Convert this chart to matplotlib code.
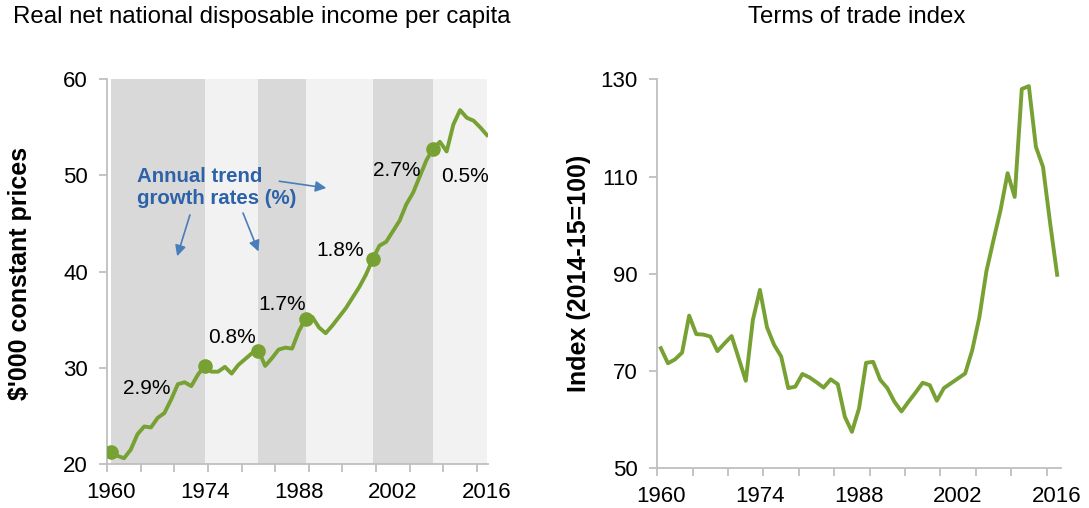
import matplotlib
matplotlib.use('Agg')
import matplotlib.pyplot as plt
from matplotlib.ticker import FixedLocator
import numpy as np

plt.rcParams['font.family'] = ['Liberation Sans', 'DejaVu Sans']

years = np.arange(1960, 2017)

# real net national disposable income per capita, $'000 constant prices
income = [21.2, 20.85, 20.6, 21.5, 23.1, 23.9, 23.8, 24.8, 25.3, 26.7,
          28.3, 28.5, 28.1, 29.3, 30.2, 29.6, 29.6, 30.1, 29.4, 30.3,
          30.9, 31.5, 31.8, 30.2, 31.0, 31.9, 32.1, 32.0, 33.8, 35.1,
          35.3, 34.2, 33.6, 34.4, 35.3, 36.2, 37.3, 38.4, 39.7, 41.3,
          42.7, 43.1, 44.2, 45.3, 47.0, 48.2, 49.9, 51.6, 52.8, 53.5,
          52.5, 55.3, 56.8, 56.0, 55.7, 55.0, 54.2]

# terms of trade index (2014-15=100)
tot = [74.7, 71.6, 72.4, 73.8, 81.4, 77.6, 77.5, 77.1, 74.1, 75.7,
       77.2, 72.6, 68.0, 80.5, 86.7, 79.0, 75.4, 73.0, 66.5, 66.8,
       69.4, 68.7, 67.7, 66.6, 68.3, 67.3, 60.6, 57.5, 62.3, 71.7,
       71.9, 68.2, 66.5, 63.7, 61.7, 63.7, 65.6, 67.6, 67.1, 63.9,
       66.5, 67.5, 68.5, 69.5, 74.3, 81.0, 90.5, 96.9, 103.1, 110.7,
       105.8, 128.0, 128.6, 116.1, 112.0, 100.5, 89.8]

# cycle peaks (band edges) and trend growth rates between them
peak_years = [1960, 1974, 1982, 1989, 1999, 2008, 2016]
growth_labels = ['2.9%', '0.8%', '1.7%', '1.8%', '2.7%', '0.5%']
label_pos = [(1965.4, 27.9), (1978.0, 33.2), (1985.6, 36.6),
             (1994.1, 42.2), (2002.6, 50.5), (2012.7, 49.9)]

xtick_years = [1960, 1974, 1988, 2002, 2016]

green = '#77A132'
blue_txt = '#2E62A8'
blue_arrow = '#4A7EBB'
axis_grey = '#BFBFBF'

fig = plt.figure(figsize=(10.89, 5.08), dpi=100)
ax1 = fig.add_axes([0.0985, 0.0866, 0.3499, 0.7573])
ax2 = fig.add_axes([0.6036, 0.0781, 0.3704, 0.7658])


def style_axis(ax):
    for s in ['top', 'right']:
        ax.spines[s].set_visible(False)
    for s in ['left', 'bottom']:
        ax.spines[s].set_color(axis_grey)
        ax.spines[s].set_linewidth(1.3)
    ax.set_xticks(xtick_years)
    ax.xaxis.set_minor_locator(FixedLocator(np.arange(1959.5, 2015, 5)))
    ax.tick_params(axis='x', which='major', length=0, pad=13, labelsize=16)
    ax.tick_params(axis='x', which='minor', length=6, width=1.3, color=axis_grey)
    ax.tick_params(axis='y', which='major', length=6, width=1.3, color=axis_grey,
                   labelsize=16, pad=8)


# left chart
ax1.set_xlim(1959.5, 2016.2)
ax1.set_ylim(20, 60)
ax1.set_yticks([20, 30, 40, 50, 60])
for i in range(len(peak_years) - 1):
    col = '#D9D9D9' if i % 2 == 0 else '#F2F2F2'
    ax1.axvspan(peak_years[i], peak_years[i + 1], color=col, lw=0, zorder=0)
ax1.plot(years, income, color=green, lw=2.8, zorder=3)
peak_vals = [income[y - 1960] for y in peak_years[:-1]]
ax1.plot(peak_years[:-1], peak_vals, 'o', color=green, ms=9.5, zorder=4)
for lab, (px, py) in zip(growth_labels, label_pos):
    ax1.text(px, py, lab, ha='center', va='center', fontsize=15, zorder=5)

ax1.text(1963.9, 48.7, 'Annual trend\ngrowth rates (%)', ha='left', va='center',
         fontsize=14.7, fontweight='bold', color=blue_txt, linespacing=1.2, zorder=5)
arrows = [((1971.8, 45.9), (1969.9, 41.6)),
          ((1979.7, 46.1), (1982.0, 42.1)),
          ((1985.1, 49.4), (1992.1, 48.7))]
for start, end in arrows:
    ax1.annotate('', xy=end, xytext=start,
                 arrowprops=dict(arrowstyle='-|>', color=blue_arrow, lw=1.2,
                                 mutation_scale=16, shrinkA=0, shrinkB=0),
                 zorder=5)
style_axis(ax1)

# right chart
ax2.set_xlim(1959.5, 2016.5)
ax2.set_ylim(50, 130)
ax2.set_yticks([50, 70, 90, 110, 130])
ax2.plot(years, tot, color=green, lw=2.8)
style_axis(ax2)

fig.text(262 / 1089, 1 - 17 / 508, 'Real net national disposable income per capita',
         ha='center', va='center', fontsize=17.3)
fig.text(857 / 1089, 1 - 17 / 508, 'Terms of trade index',
         ha='center', va='center', fontsize=17.3)
fig.text(20 / 1089, 1 - 273 / 508, "$'000 constant prices", rotation=90,
         ha='center', va='center', fontsize=18, fontweight='bold')
fig.text(579 / 1089, 1 - 273 / 508, 'Index (2014-15=100)', rotation=90,
         ha='center', va='center', fontsize=18, fontweight='bold')

fig.savefig('out.png', dpi=100)
